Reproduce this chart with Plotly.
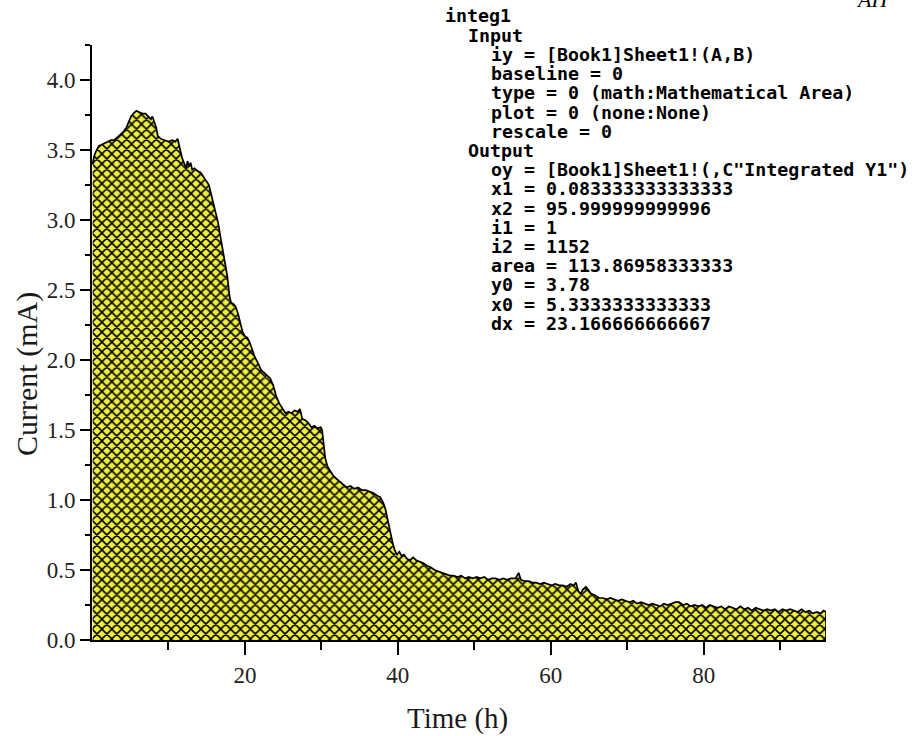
import plotly.graph_objects as go

# ---- data ----
time_h = [
    0.08, 0.3, 0.6, 0.9, 1.3, 1.7, 2.1, 2.5, 2.9, 3.3, 3.7, 4.1, 4.5, 4.8, 5.1, 5.4, 5.8,
    6.2, 6.6, 7.0, 7.4, 7.7, 7.9, 8.2, 8.4, 8.6, 9.0, 9.5, 10.0, 10.5, 10.9, 11.2, 11.5,
    11.8, 12.1, 12.3, 12.5, 12.7, 12.9, 13.1, 13.4, 13.8, 14.2, 14.6, 15.0, 15.3, 15.6,
    15.9, 16.2, 16.5, 16.8, 17.1, 17.4, 17.7, 18.0, 18.2, 18.5, 18.8, 19.1, 19.4, 19.7,
    20.0, 20.3, 20.6, 20.9, 21.3, 21.7, 22.1, 22.5, 22.9, 23.3, 23.7, 24.1, 24.5, 24.9,
    25.3, 25.7, 26.1, 26.5, 26.9, 27.2, 27.5, 27.9, 28.3, 28.7, 29.1, 29.5, 29.9, 30.1,
    30.3, 30.5, 30.8, 31.2, 31.6, 32.0, 32.4, 32.8, 33.3, 33.8, 34.3, 34.8, 35.3, 35.8,
    36.3, 36.8, 37.3, 37.7, 38.1, 38.4, 38.7, 39.0, 39.3, 39.6, 39.9, 40.2, 40.5, 40.8,
    41.2, 41.6, 42.0, 42.4, 42.8, 43.3, 43.8, 44.3, 44.8, 45.3, 45.8, 46.3, 46.8, 47.3,
    47.8, 48.3, 48.8, 49.3, 49.8, 50.3, 50.8, 51.3, 51.8, 52.3, 52.8, 53.3, 53.8, 54.3,
    54.8, 55.4, 55.8, 56.1, 56.6, 57.1, 57.6, 58.1, 58.6, 59.1, 59.6, 60.1, 60.6, 61.1,
    61.6, 62.1, 62.6, 63.0, 63.3, 63.6, 63.9, 64.2, 64.6, 64.9, 65.3, 65.8, 66.3, 66.8,
    67.3, 67.8, 68.3, 68.8, 69.3, 69.8, 70.3, 70.8, 71.3, 71.8, 72.3, 72.8, 73.3, 73.8,
    74.3, 74.8, 75.3, 75.8, 76.3, 76.8, 77.3, 77.8, 78.3, 78.8, 79.3, 79.8, 80.3, 80.8,
    81.3, 81.8, 82.3, 82.8, 83.3, 83.8, 84.3, 84.8, 85.3, 85.8, 86.3, 86.8, 87.3, 87.8,
    88.3, 88.8, 89.3, 89.8, 90.3, 90.8, 91.3, 91.8, 92.3, 92.8, 93.3, 93.8, 94.3, 94.8,
    95.3, 95.7, 96.0,
]
current_mA = [
    3.40, 3.46, 3.50, 3.53, 3.54, 3.55, 3.56, 3.57, 3.57, 3.59, 3.61, 3.63, 3.66, 3.70, 3.74, 3.76, 3.78,
    3.77, 3.76, 3.76, 3.74, 3.72, 3.74, 3.70, 3.66, 3.60, 3.58, 3.57, 3.56, 3.57, 3.56, 3.58, 3.50,
    3.44, 3.40, 3.37, 3.42, 3.38, 3.41, 3.36, 3.37, 3.35, 3.34, 3.31, 3.28, 3.25, 3.18,
    3.12, 3.05, 2.98, 2.88, 2.78, 2.70, 2.60, 2.45, 2.41, 2.40, 2.38, 2.33, 2.27, 2.20,
    2.17, 2.16, 2.13, 2.08, 2.02, 1.98, 1.93, 1.91, 1.89, 1.87, 1.82, 1.74, 1.69, 1.65,
    1.62, 1.63, 1.62, 1.64, 1.63, 1.65, 1.58, 1.57, 1.55, 1.52, 1.53, 1.51, 1.52, 1.50,
    1.40, 1.30, 1.24, 1.20, 1.17, 1.15, 1.13, 1.11, 1.09, 1.10, 1.08, 1.09, 1.07, 1.07,
    1.06, 1.05, 1.03, 1.02, 0.98, 0.93, 0.85, 0.77, 0.70, 0.64, 0.61, 0.63, 0.60, 0.61,
    0.58, 0.57, 0.59, 0.57, 0.56, 0.55, 0.53, 0.52, 0.50, 0.49, 0.48, 0.47, 0.46, 0.46,
    0.45, 0.46, 0.44, 0.45, 0.44, 0.45, 0.44, 0.45, 0.43, 0.44, 0.44, 0.43, 0.44, 0.43,
    0.44, 0.44, 0.48, 0.43, 0.42, 0.42, 0.41, 0.41, 0.40, 0.41, 0.40, 0.39, 0.40, 0.39,
    0.39, 0.38, 0.40, 0.39, 0.41, 0.35, 0.33, 0.36, 0.38, 0.36, 0.33, 0.32, 0.30, 0.30,
    0.29, 0.30, 0.29, 0.28, 0.29, 0.28, 0.27, 0.28, 0.26, 0.27, 0.26, 0.25, 0.26, 0.25,
    0.24, 0.26, 0.25, 0.26, 0.27, 0.27, 0.25, 0.26, 0.24, 0.25, 0.24, 0.25, 0.23, 0.25,
    0.24, 0.23, 0.24, 0.22, 0.24, 0.23, 0.22, 0.24, 0.22, 0.23, 0.21, 0.23, 0.22, 0.21,
    0.22, 0.21, 0.22, 0.20, 0.22, 0.21, 0.22, 0.21, 0.20, 0.22, 0.20, 0.21, 0.19, 0.20,
    0.19, 0.21, 0.20,
]

y_tick_vals = [0.0, 0.5, 1.0, 1.5, 2.0, 2.5, 3.0, 3.5, 4.0]
x_tick_vals = [20, 40, 60, 80]
x_minor_vals = [10, 30, 50, 70, 90]
x_title = "Time (h)"
y_title = "Current (mA)"

info_lines = [
    "integ1",
    "Input",
    "iy = [Book1]Sheet1!(A,B)",
    "baseline = 0",
    "type = 0 (math:Mathematical Area)",
    "plot = 0 (none:None)",
    "rescale = 0",
    "Output",
    'oy = [Book1]Sheet1!(,C"Integrated Y1")',
    "x1 = 0.083333333333333",
    "x2 = 95.999999999996",
    "i1 = 1",
    "i2 = 1152",
    "area = 113.86958333333",
    "y0 = 3.78",
    "x0 = 5.3333333333333",
    "dx = 23.166666666667",
]
info_indent = [0, 1, 2, 2, 2, 2, 2, 1, 2, 2, 2, 2, 2, 2, 2, 2, 2]

# ---- figure geometry ----
W, H = 914, 736
ML, MR, MT, MB = 92, 88, 45, 96
PW, PH = W - ML - MR, H - MT - MB


def px_to_paper(px, py):
    return (px - ML) / PW, (H - MB - py) / PH


YELLOW = "#f0f03c"

fig = go.Figure()
fig.add_trace(go.Scatter(
    x=time_h, y=current_mA, mode="lines",
    line=dict(color="black", width=1.7),
    fill="tozeroy", fillcolor=YELLOW,
    fillpattern=dict(shape="x", bgcolor=YELLOW, fgcolor="#000000",
                     size=7, solidity=0.4, fgopacity=1),
    showlegend=False, hoverinfo="skip",
))
# closing edge at the right end of the area
fig.add_trace(go.Scatter(
    x=[time_h[-1], time_h[-1]], y=[0, current_mA[-1]], mode="lines",
    line=dict(color="black", width=1.7), showlegend=False, hoverinfo="skip",
))

serif = "Liberation Serif, Times New Roman, serif"
fig.update_layout(
    width=W, height=H,
    margin=dict(l=ML, r=MR, t=MT, b=MB, autoexpand=False),
    paper_bgcolor="white", plot_bgcolor="white",
    font=dict(family=serif, color="#1a1a1a"),
    xaxis=dict(
        range=[0, 96], showgrid=False, zeroline=False,
        showline=True, linecolor="black", linewidth=2,
        ticks="outside", ticklen=13, tickwidth=2, tickcolor="black",
        tickvals=x_tick_vals, ticktext=[str(v) for v in x_tick_vals],
        tickfont=dict(family=serif, size=23, color="#222"),
        minor=dict(tickvals=x_minor_vals, ticks="outside", ticklen=8,
                   tickwidth=2, tickcolor="black"),
        automargin=False,
    ),
    yaxis=dict(
        range=[0, 4.25], showgrid=False, zeroline=False,
        showline=True, linecolor="black", linewidth=2,
        ticks="outside", ticklen=10, tickwidth=2, tickcolor="black",
        tickvals=y_tick_vals, ticktext=[f"{v:.1f}" for v in y_tick_vals],
        tickfont=dict(family=serif, size=23, color="#222"),
        minor=dict(dtick=0.25, tick0=0, ticks="outside", ticklen=5,
                   tickwidth=2, tickcolor="black"),
        automargin=False,
    ),
)

annotations = []
# axis titles
ax, ay = px_to_paper(457, 718)
annotations.append(dict(x=ax, y=ay, xref="paper", yref="paper", xanchor="center",
                        yanchor="middle", text=x_title, showarrow=False,
                        font=dict(family=serif, size=29, color="#1a1a1a")))
ax, ay = px_to_paper(27, 374)
annotations.append(dict(x=ax, y=ay, xref="paper", yref="paper", xanchor="center",
                        yanchor="middle", text=y_title, textangle=-90, showarrow=False,
                        font=dict(family=serif, size=30, color="#1a1a1a")))

# Origin integration report text
y0_px, dy_px = 16, 19.2
for i, (txt, ind) in enumerate(zip(info_lines, info_indent)):
    ax, ay = px_to_paper(443 + 23 * ind, y0_px + dy_px * i)
    annotations.append(dict(
        x=ax, y=ay, xref="paper", yref="paper", xanchor="left", yanchor="middle",
        text=f"<b>{txt}</b>", showarrow=False,
        font=dict(family="DejaVu Sans Mono", size=18.3, color="black"),
    ))
ax, ay = px_to_paper(872, 14)
annotations.append(dict(
    x=ax, y=ay, xref="paper", yref="paper", xanchor="center", yanchor="bottom",
    text="<i>AH</i>", showarrow=False,
    font=dict(family=serif, size=22, color="black"),
))
fig.update_layout(annotations=annotations)

fig.write_html("out.html", config={"displayModeBar": False},
               post_script="document.body.style.margin='0';")
